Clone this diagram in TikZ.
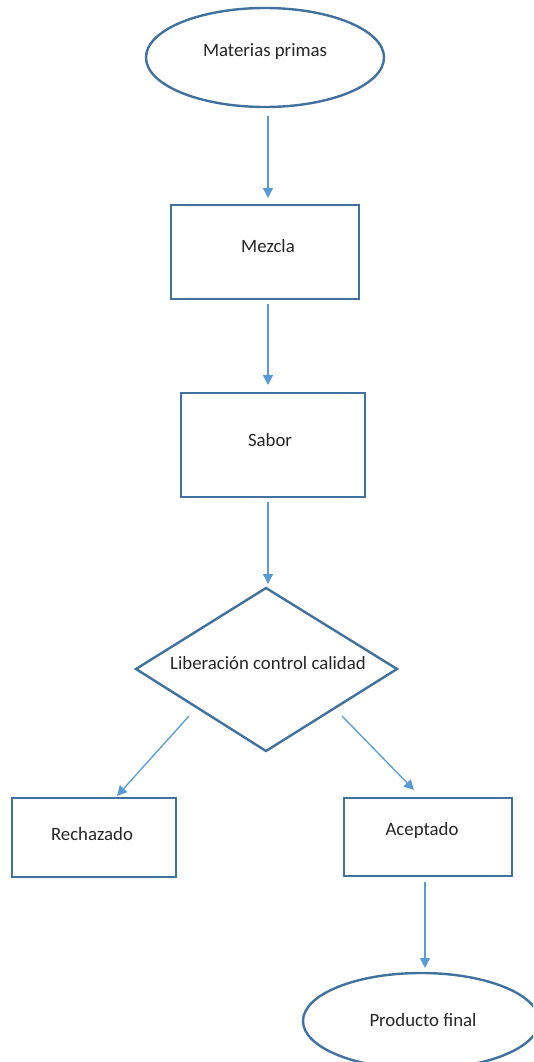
\documentclass[tikz,border=0pt]{standalone}
\usepackage{fontspec}
\setmainfont{Carlito}
\usetikzlibrary{arrows.meta,shapes.geometric}
\definecolor{boxblue}{HTML}{41719C}
\definecolor{arrowblue}{HTML}{5B9BD5}
\begin{document}
\begin{tikzpicture}[x=1pt,y=-1pt,
  every node/.style={font=\fontsize{18.8}{22}\selectfont, text=black!85},
  shapebox/.style={draw=boxblue, line width=2.4pt, rectangle, inner sep=0pt, anchor=north west},
  conn/.style={draw=arrowblue, line width=1.3pt, -{Triangle[length=10pt,width=10pt]}}]
\useasboundingbox (0,0) rectangle (533,1062);
\clip (0,0) rectangle (533,1062);
\fill[white] (0,0) rectangle (533,1062);
% start ellipse
\node[draw=boxblue, line width=2.4pt, ellipse, minimum width=238pt, minimum height=99pt, inner sep=0pt] (mp) at (265,57.5) {};
\node at (265,52) {Materias primas};
% boxes
\node[shapebox, minimum width=188pt, minimum height=94pt] (mez) at (170,204) {};
\node at (268,246) {Mezcla};
\node[shapebox, minimum width=184pt, minimum height=104pt] (sab) at (180,392) {};
\node at (270,440) {Sabor};
% diamond
\draw[boxblue, line width=2.4pt] (266,588) -- (397,669) -- (266,751) -- (136,669) -- cycle;
\coordinate (dtop) at (266,588);
\node (lcc) at (268,663) {Liberación control calidad};
\node[shapebox, minimum width=164pt, minimum height=79pt] (rech) at (11,797) {};
\node at (92,834) {Rechazado};
\node[shapebox, minimum width=168pt, minimum height=78pt] (acep) at (343,797) {};
\node at (422,830) {Aceptado};
% final ellipse
\node[draw=boxblue, line width=2.4pt, ellipse, minimum width=236pt, minimum height=96pt, inner sep=0pt] (pf) at (421,1021) {};
\node at (423,1020) {Producto final};
% connectors
\coordinate (a1s) at (268,116);
\coordinate (a1e) at (268,198);
\draw[conn] (a1s) -- (a1e);
\coordinate (a2s) at (268,304);
\coordinate (a2e) at (268,385);
\draw[conn] (a2s) -- (a2e);
\coordinate (a3s) at (268,502);
\coordinate (a3e) at (268,584);
\draw[conn] (a3s) -- (a3e);
\coordinate (a4s) at (189,716);
\coordinate (a4e) at (117,796);
\draw[conn] (a4s) -- (a4e);
\coordinate (a5s) at (342,716);
\coordinate (a5e) at (414,790);
\draw[conn] (a5s) -- (a5e);
\coordinate (a6s) at (425,882);
\coordinate (a6e) at (425,968);
\draw[conn] (a6s) -- (a6e);
\end{tikzpicture}
\end{document}
